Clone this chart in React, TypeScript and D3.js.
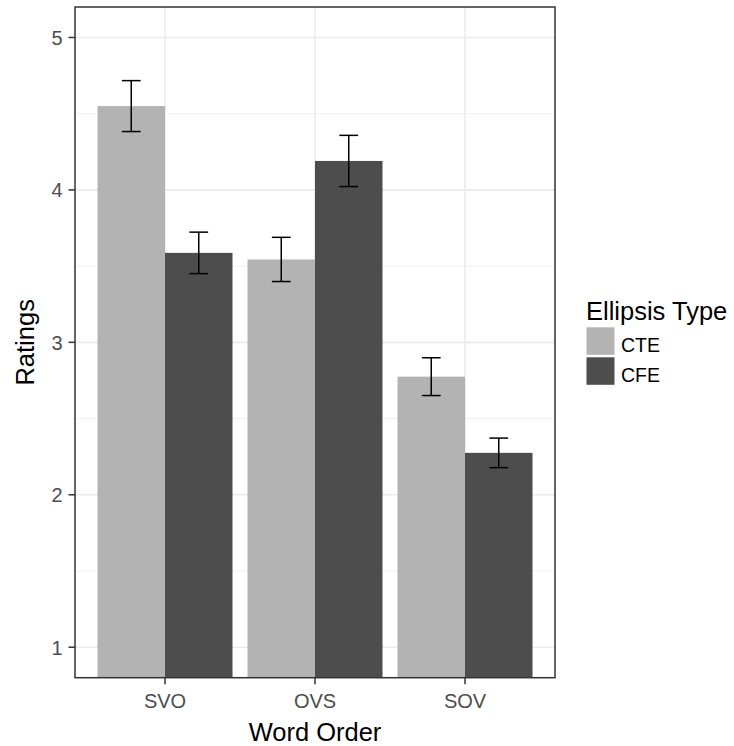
import React from "react";
import * as d3 from "d3";

const categories = ["SVO", "OVS", "SOV"];
const groups = ["CTE", "CFE"];
const cteValues = [4.55, 3.544, 2.775];
const cteErrors = [0.167, 0.145, 0.124];
const cfeValues = [3.587, 4.19, 2.275];
const cfeErrors = [0.136, 0.168, 0.097];
const yTicks = [1, 2, 3, 4, 5];
const yMinor = [1.5, 2.5, 3.5, 4.5];
const groupColors = ["#B3B3B3", "#4D4D4D"];

const W = 734;
const H = 746;
const P = { left: 75, right: 555, top: 7, bottom: 677.7 };
const FONT = "'Liberation Sans', Arial, sans-serif";

export default function App() {
  const y = d3.scaleLinear().domain([0.8, 5.2]).range([P.bottom, P.top]);
  const x = d3.scalePoint<string>().domain(categories).range([P.left, P.right]).padding(0.6);
  const step = x.step();
  const barW = step * 0.45;
  const capW = step * 0.125;

  const series = [
    { name: groups[0], values: cteValues, errors: cteErrors, color: groupColors[0], off: -1 },
    { name: groups[1], values: cfeValues, errors: cfeErrors, color: groupColors[1], off: 0 },
  ];

  return (
    <svg width={W} height={H} style={{ position: "absolute", left: 0, top: 0, background: "#fff" }}>
      <defs>
        <clipPath id="panel">
          <rect x={P.left} y={P.top} width={P.right - P.left} height={P.bottom - P.top} />
        </clipPath>
      </defs>
      <rect x={0} y={0} width={W} height={H} fill="#fff" />
      {/* grid */}
      <g>
        {yMinor.map((t) => (
          <line key={"mi" + t} x1={P.left} x2={P.right} y1={y(t)} y2={y(t)} stroke="#F0F0F0" strokeWidth={1} />
        ))}
        {yTicks.map((t) => (
          <line key={"ma" + t} x1={P.left} x2={P.right} y1={y(t)} y2={y(t)} stroke="#EBEBEB" strokeWidth={1.6} />
        ))}
        {categories.map((c) => (
          <line key={"v" + c} x1={x(c)!} x2={x(c)!} y1={P.top} y2={P.bottom} stroke="#EBEBEB" strokeWidth={1.6} />
        ))}
      </g>
      {/* bars */}
      <g clipPath="url(#panel)">
        {series.map((s) =>
          categories.map((c, i) => {
            const x0 = x(c)! + s.off * barW;
            return (
              <rect
                key={s.name + c}
                x={x0}
                width={barW}
                y={y(s.values[i])}
                height={y(0) - y(s.values[i])}
                fill={s.color}
              />
            );
          })
        )}
      </g>
      {/* error bars */}
      <g stroke="#000" strokeWidth={1.5} fill="none">
        {series.map((s) =>
          categories.map((c, i) => {
            const cx = x(c)! + s.off * barW + barW / 2;
            const hi = y(s.values[i] + s.errors[i]);
            const lo = y(s.values[i] - s.errors[i]);
            return (
              <g key={"e" + s.name + c}>
                <line x1={cx} x2={cx} y1={hi} y2={lo} />
                <line x1={cx - capW / 2} x2={cx + capW / 2} y1={hi} y2={hi} />
                <line x1={cx - capW / 2} x2={cx + capW / 2} y1={lo} y2={lo} />
              </g>
            );
          })
        )}
      </g>
      {/* border */}
      <rect x={P.left} y={P.top} width={P.right - P.left} height={P.bottom - P.top} fill="none" stroke="#333333" strokeWidth={1.5} />
      {/* axes */}
      <g fontFamily={FONT} fontSize={20} fill="#4D4D4D">
        {yTicks.map((t) => (
          <g key={"yt" + t}>
            <line x1={P.left - 6.5} x2={P.left} y1={y(t)} y2={y(t)} stroke="#333333" strokeWidth={1.5} />
            <text x={62.5} y={y(t) + 7.5} textAnchor="end">{t}</text>
          </g>
        ))}
        {categories.map((c) => (
          <g key={"xt" + c}>
            <line x1={x(c)!} x2={x(c)!} y1={P.bottom} y2={P.bottom + 6.5} stroke="#333333" strokeWidth={1.5} />
            <text x={x(c)!} y={708} textAnchor="middle">{c}</text>
          </g>
        ))}
      </g>
      {/* axis titles */}
      <text x={(P.left + P.right) / 2} y={740.5} textAnchor="middle" fontFamily={FONT} fontSize={25.5} fill="#000">
        Word Order
      </text>
      <text
        transform={`translate(33.5, ${(P.top + P.bottom) / 2}) rotate(-90)`}
        textAnchor="middle"
        fontFamily={FONT}
        fontSize={25.5}
        fill="#000"
      >
        Ratings
      </text>
      {/* legend */}
      <g fontFamily={FONT}>
        <text x={586} y={320} fontSize={25.5} fill="#000">Ellipsis Type</text>
        {series.map((s, i) => (
          <g key={"lg" + s.name}>
            <rect x={586.5} y={327.3 + i * 30} width={28} height={27.5} fill={s.color} />
            <text x={621} y={351.5 + i * 30.5} fontSize={19.5} fill="#000">{s.name}</text>
          </g>
        ))}
      </g>
    </svg>
  );
}
